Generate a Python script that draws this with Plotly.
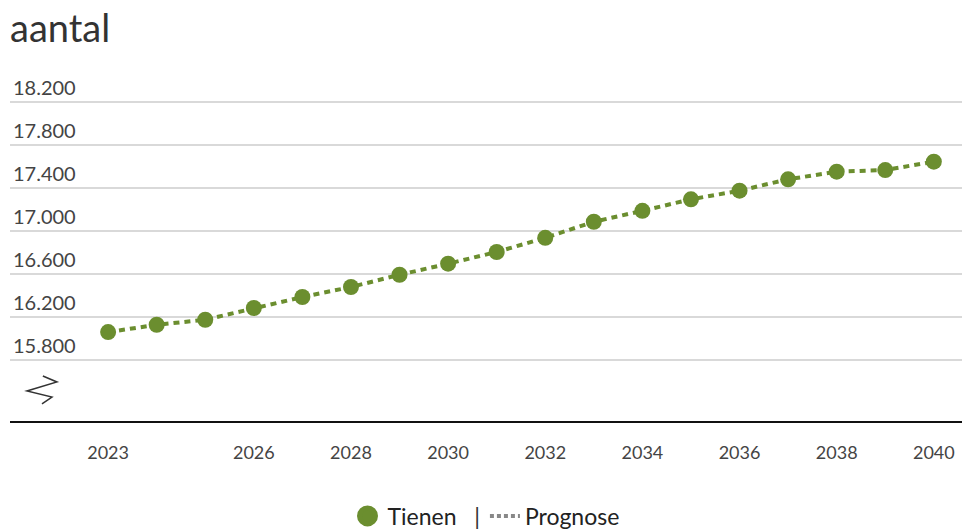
import plotly.graph_objects as go

# data
jaren = list(range(2023, 2041))
tienen = [16060, 16128, 16175, 16284, 16386, 16479, 16593, 16696, 16805,
          16937, 17086, 17188, 17295, 17375, 17481, 17552, 17567, 17645]
x_ticks = [2023, 2026, 2028, 2030, 2032, 2034, 2036, 2038, 2040]
y_ticks = [15800, 16200, 16600, 17000, 17400, 17800, 18200]

groen = "#6b8e2f"
font_family = "Lato, 'Open Sans', sans-serif"

fig = go.Figure()

# the dotted forecast line with markers
fig.add_trace(go.Scatter(
    x=jaren, y=tienen, mode="lines+markers",
    line=dict(color=groen, width=4, dash="6px,5px"),
    marker=dict(color=groen, size=16),
    showlegend=False, hoverinfo="skip",
))

# legend-only entries
fig.add_trace(go.Scatter(
    x=[None], y=[None], mode="markers",
    name="Tienen&nbsp;&nbsp;&nbsp;<span style='color:#333'>|</span>",
    marker=dict(color=groen, size=16, line=dict(color=groen, width=5)),
))
fig.add_trace(go.Scatter(
    x=[None], y=[None], mode="lines", name="Prognose",
    line=dict(color="#888", width=4, dash="4px,3px"),
))

# axis break symbol
fig.add_shape(
    type="path", xref="paper", yref="paper",
    path="M 0.0345 0.1264 L 0.0493 0.1096 L 0.0178 0.0843 L 0.0441 0.0674 L 0.0336 0.0478",
    line=dict(color="#333", width=1.5),
)

fig.update_layout(
    width=966, height=530,
    margin=dict(l=10, r=4, t=65, b=109),
    plot_bgcolor="white", paper_bgcolor="white",
    separators=",.",
    font=dict(family=font_family, color="#333"),
    title=dict(text="aantal", x=0, xref="paper", xanchor="left",
               y=1 - 29 / 530, yref="container", yanchor="middle",
               font=dict(size=38, color="#333")),
    legend=dict(orientation="h", x=0.5, xanchor="center",
                y=1 - 516 / 530, yref="container", yanchor="middle",
                font=dict(size=23, color="#222")),
    showlegend=True,
)

fig.update_xaxes(
    range=[2020.98, 2040.58], tickvals=x_ticks,
    showgrid=False, zeroline=False,
    showline=True, linecolor="#111", linewidth=2,
    ticks="outside", ticklen=14, tickcolor="rgba(0,0,0,0)",
    tickfont=dict(size=18, color="#444"),
)
fig.update_yaxes(
    range=[15233, 18544], tickvals=y_ticks, tickformat=",d",
    showgrid=True, gridcolor="#d9d9d9", gridwidth=2, zeroline=False,
    ticklabelposition="inside top",
    tickfont=dict(size=20, color="#444"),
)

fig.write_html("out.html", config={"displayModeBar": False},
               post_script="document.body.style.margin='0px';")
